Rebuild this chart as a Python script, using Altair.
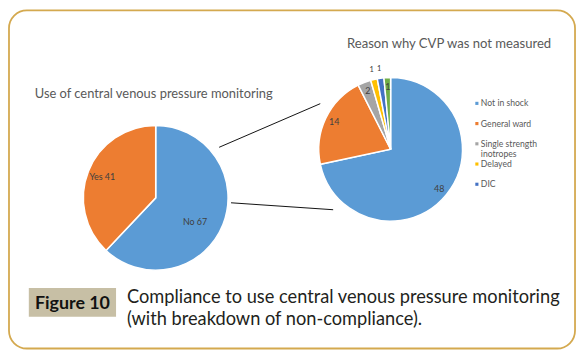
import altair as alt
import pandas as pd

# ---- text ----
left_title = "Use of central venous pressure monitoring"
right_title = "Reason why CVP was not measured"
fig_label = "Figure 10"
caption_lines = [
    "Compliance to use central venous pressure monitoring",
    "(with breakdown of non-compliance).",
]

# ---- data ----
left_cats = ["No", "Yes"]
left_vals = [67, 41]

right_cats = ["Not in shock", "General ward", "Single strength inotropes", "Delayed", "DIC", "Other"]
right_vals = [48, 14, 2, 1, 1, 1]

legend_cats = right_cats[:5]

color_domain = left_cats + right_cats
color_range = ["#5B9BD5", "#ED7D31", "#5B9BD5", "#ED7D31", "#A5A5A5", "#FFC000", "#4472C4", "#70AD47"]

FONT = "Lato"

left_df = pd.DataFrame({"cat": left_cats, "value": left_vals, "idx": list(range(len(left_cats)))})
right_df = pd.DataFrame({"cat": right_cats, "value": right_vals, "idx": list(range(len(right_cats)))})
legend_df = pd.DataFrame({"cat": legend_cats})
one = pd.DataFrame({"d": [0]})

color_enc = alt.Color("cat:N", scale=alt.Scale(domain=color_domain, range=color_range), legend=None)
theta_enc = alt.Theta("value:Q", stack=True)
order_enc = alt.Order("idx:Q")

# ---- left pie ----
LX, LY = 149, 190
left_arc = alt.Chart().mark_arc(radius=73, stroke="white", strokeWidth=1.5).encode(
    theta=theta_enc, order=order_enc, color=color_enc, x=alt.value(LX), y=alt.value(LY)
)
left_lbl_yes = alt.Chart().transform_calculate(
    lbl="datum.cat == 'Yes' ? datum.cat + ' ' + datum.value : ''"
).mark_text(radius=58, fontSize=9, font=FONT, color="#404040").encode(
    theta=theta_enc, order=order_enc, text="lbl:N", x=alt.value(LX), y=alt.value(LY)
)
left_lbl_no = alt.Chart().transform_calculate(
    lbl="datum.cat == 'No' ? datum.cat + ' ' + datum.value : ''"
).mark_text(radius=47, dx=-4, dy=7, fontSize=9, font=FONT, color="#404040").encode(
    theta=theta_enc, order=order_enc, text="lbl:N", x=alt.value(LX), y=alt.value(LY)
)
left_pie = alt.layer(left_arc, left_lbl_yes, left_lbl_no, data=left_df)

# ---- right pie ----
RX, RY = 386, 141
right_arc = alt.Chart().mark_arc(radius=72.5, stroke="white", strokeWidth=1.5).encode(
    theta=theta_enc, order=order_enc, color=color_enc, x=alt.value(RX), y=alt.value(RY)
)
right_lbl_in = alt.Chart().transform_calculate(
    lbl="(datum.cat == 'Delayed' || datum.cat == 'DIC') ? '' : '' + datum.value"
).mark_text(radius=63, fontSize=9, font=FONT, color="#404040").encode(
    theta=theta_enc, order=order_enc, text="lbl:N", x=alt.value(RX), y=alt.value(RY)
)
right_lbl_out = alt.Chart().transform_calculate(
    lbl="(datum.cat == 'Delayed' || datum.cat == 'DIC') ? '' + datum.value : ''"
).mark_text(radius=82, fontSize=7.5, font=FONT, color="#404040").encode(
    theta=theta_enc, order=order_enc, text="lbl:N", x=alt.value(RX), y=alt.value(RY)
)
right_pie = alt.layer(right_arc, right_lbl_in, right_lbl_out, data=right_df)

# ---- connector lines ----
conn1 = alt.Chart(one).mark_rule(color="#111111", strokeWidth=1).encode(
    x=alt.value(213), y=alt.value(139), x2=alt.value(315), y2=alt.value(95)
)
conn2 = alt.Chart(one).mark_rule(color="#111111", strokeWidth=1).encode(
    x=alt.value(225), y=alt.value(195), x2=alt.value(328), y2=alt.value(202)
)

# ---- titles ----
t_left = alt.Chart(pd.DataFrame({"t": [left_title]})).mark_text(
    align="left", baseline="middle", fontSize=13, font=FONT, color="#595959"
).encode(text="t:N", x=alt.value(27), y=alt.value(85))
t_right = alt.Chart(pd.DataFrame({"t": [right_title]})).mark_text(
    align="left", baseline="middle", fontSize=13.2, font=FONT, color="#595959"
).encode(text="t:N", x=alt.value(342), y=alt.value(35))

# ---- legend ----
leg_y = alt.Y("cat:N", scale=alt.Scale(type="point", domain=legend_cats, range=[94.7, 176.3], padding=0), axis=None)
leg_sq = alt.Chart(legend_df).mark_square(size=10, opacity=1).encode(
    x=alt.value(473), y=leg_y, color=color_enc
)
leg_tx = alt.Chart(legend_df).transform_calculate(
    lbl="replace(datum.cat, 'strength ', 'strength\\n')"
).mark_text(
    align="left", baseline="alphabetic", dy=3, fontSize=8.7, font=FONT, color="#595959",
    lineBreak="\n", lineHeight=10
).encode(x=alt.value(477), y=leg_y, text="lbl:N")

# ---- frame and caption ----
border = alt.Chart(one).mark_rect(
    fillOpacity=0, stroke="#d4a94f", strokeWidth=1.8, cornerRadius=18
).encode(x=alt.value(1), x2=alt.value(572), y=alt.value(0.9), y2=alt.value(342))
box = alt.Chart(one).mark_rect(fill="#c7bfa5").encode(
    x=alt.value(21), x2=alt.value(109), y=alt.value(281), y2=alt.value(310)
)
box_text = alt.Chart(pd.DataFrame({"t": [fig_label]})).mark_text(
    align="center", baseline="alphabetic", fontSize=18, fontWeight="bold", font=FONT, color="#111111"
).encode(text="t:N", x=alt.value(65), y=alt.value(302))
caption = alt.Chart(pd.DataFrame({"t": ["\n".join(caption_lines)]})).mark_text(
    align="left", baseline="alphabetic", fontSize=18.4, font=FONT, color="#231f20",
    lineBreak="\n", lineHeight=22.5
).encode(text="t:N", x=alt.value(120), y=alt.value(296))

chart = alt.layer(
    border, box, box_text, caption,
    left_pie, right_pie, conn1, conn2,
    t_left, t_right, leg_sq, leg_tx,
).resolve_scale(theta="independent").properties(
    width=574, height=343, autosize="none", padding=0, background="white"
).configure_view(strokeWidth=0)

chart.save("out.html", embed_options={"renderer": "svg", "actions": False})
